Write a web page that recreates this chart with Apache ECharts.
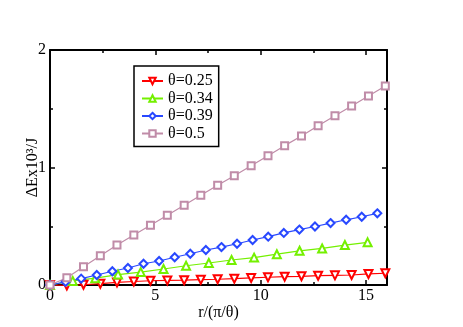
<!DOCTYPE html>
<html>
<head>
<meta charset="utf-8">
<script src="https://cdn.jsdelivr.net/npm/echarts@6/dist/echarts.min.js"></script>
<style>
  html, body { margin: 0; padding: 0; background: #fff; }
  #chart { width: 463px; height: 327px; }
</style>
</head>
<body>
<div id="chart"></div>
<script>
const seriesNames = ['θ=0.25', 'θ=0.34', 'θ=0.39', 'θ=0.5']

const xRed = [0, 0.80, 1.59, 2.39, 3.18, 3.98, 4.77, 5.57, 6.37, 7.16, 7.96, 8.75, 9.55, 10.35, 11.14, 11.94, 12.73, 13.53, 14.32, 15.12, 15.92]
const yRed = [0, -0.004, 0.002, 0.011, 0.022, 0.030, 0.036, 0.039, 0.041, 0.045, 0.049, 0.054, 0.060, 0.066, 0.071, 0.074, 0.079, 0.082, 0.085, 0.094, 0.100]

const xGreen = [0, 1.08, 2.15, 3.23, 4.31, 5.39, 6.46, 7.54, 8.62, 9.69, 10.77, 11.85, 12.92, 14.00, 15.08]
const yGreen = [0, 0.035, 0.058, 0.089, 0.110, 0.136, 0.164, 0.187, 0.213, 0.233, 0.262, 0.291, 0.311, 0.340, 0.363]

const xBlue = [0, 0.74, 1.48, 2.22, 2.96, 3.70, 4.44, 5.18, 5.92, 6.66, 7.40, 8.14, 8.88, 9.62, 10.36, 11.10, 11.84, 12.58, 13.32, 14.06, 14.80, 15.54]
const yBlue = [0, 0.026, 0.054, 0.085, 0.117, 0.145, 0.181, 0.204, 0.236, 0.266, 0.298, 0.323, 0.351, 0.383, 0.411, 0.443, 0.472, 0.498, 0.527, 0.555, 0.581, 0.610]

const xMauve = [0, 0.80, 1.59, 2.39, 3.18, 3.98, 4.77, 5.57, 6.37, 7.16, 7.96, 8.75, 9.55, 10.35, 11.14, 11.94, 12.73, 13.53, 14.32, 15.12, 15.92]
const yMauve = [0, 0.062, 0.156, 0.249, 0.340, 0.426, 0.508, 0.593, 0.678, 0.763, 0.849, 0.930, 1.015, 1.100, 1.186, 1.268, 1.356, 1.441, 1.523, 1.609, 1.694]

const xTicks = { min: 0, max: 16, interval: 5 }
const yTicks = { min: 0, max: 2, interval: 1 }

const font = 'Liberation Serif'
const pair = (xs, ys) => xs.map((x, i) => [x, ys[i]])

const axisCommon = {
  axisLine: { show: true, onZero: false, lineStyle: { color: '#000', width: 2 } },
  axisTick: { show: true, inside: true, length: 5, lineStyle: { color: '#000', width: 1.5 } },
  minorTick: { show: true, splitNumber: 2, length: 3, lineStyle: { color: '#000', width: 1.5 } },
  splitLine: { show: false }
}

const lineSeries = (name, data, color, symbol, size, rotate) => ({
  name: name,
  type: 'line',
  data: data,
  symbol: symbol,
  symbolSize: size,
  symbolRotate: rotate || 0,
  showAllSymbol: true,
  clip: false,
  itemStyle: { color: color, borderWidth: 1.3 },
  lineStyle: { color: color, width: 1.2 },
  emphasis: { disabled: true },
  z: 3
})

const option = {
  animation: false,
  backgroundColor: '#fff',
  textStyle: { fontFamily: font },
  grid: { left: 50, right: 76, top: 50, bottom: 42 },
  legend: {
    orient: 'vertical',
    left: 134,
    top: 66,
    padding: [7, 6, 5, 7],
    itemGap: 1.5,
    itemWidth: 21,
    itemHeight: 8,
    borderColor: '#000',
    borderWidth: 1.5,
    textStyle: { fontFamily: font, fontSize: 16, color: '#000', lineHeight: 16 },
    data: seriesNames
  },
  xAxis: [
    Object.assign({}, axisCommon, {
      type: 'value', position: 'bottom', ...xTicks,
      axisLabel: { fontFamily: font, fontSize: 16, color: '#000', margin: 3, showMaxLabel: false },
      name: 'r/(π/θ)', nameLocation: 'middle', nameGap: 20, nameMoveOverlap: false,
      nameTextStyle: { fontFamily: font, fontSize: 16, color: '#000' }
    }),
    Object.assign({}, axisCommon, {
      type: 'value', position: 'top', ...xTicks,
      axisLabel: { show: false }
    })
  ],
  yAxis: [
    Object.assign({}, axisCommon, {
      type: 'value', position: 'left', ...yTicks,
      axisLabel: { fontFamily: font, fontSize: 16, color: '#000', margin: 4 },
      name: 'ΔEx10³/J', nameLocation: 'middle', nameGap: 9, nameRotate: 90, nameMoveOverlap: false,
      nameTextStyle: { fontFamily: font, fontSize: 16, color: '#000' }
    }),
    Object.assign({}, axisCommon, {
      type: 'value', position: 'right', ...yTicks,
      axisLabel: { show: false }
    })
  ],
  series: [
    lineSeries(seriesNames[0], pair(xRed, yRed), '#ff0000', 'emptyTriangle', 8, 180),
    lineSeries(seriesNames[1], pair(xGreen, yGreen), '#74f000', 'emptyTriangle', 8),
    lineSeries(seriesNames[2], pair(xBlue, yBlue), '#2848ff', 'emptyDiamond', 8),
    lineSeries(seriesNames[3], pair(xMauve, yMauve), '#c08ca8', 'emptyRect', 7)
  ]
}

const chart = echarts.init(document.getElementById('chart'), null, { renderer: 'canvas' })
chart.setOption(option)
</script>
</body>
</html>
